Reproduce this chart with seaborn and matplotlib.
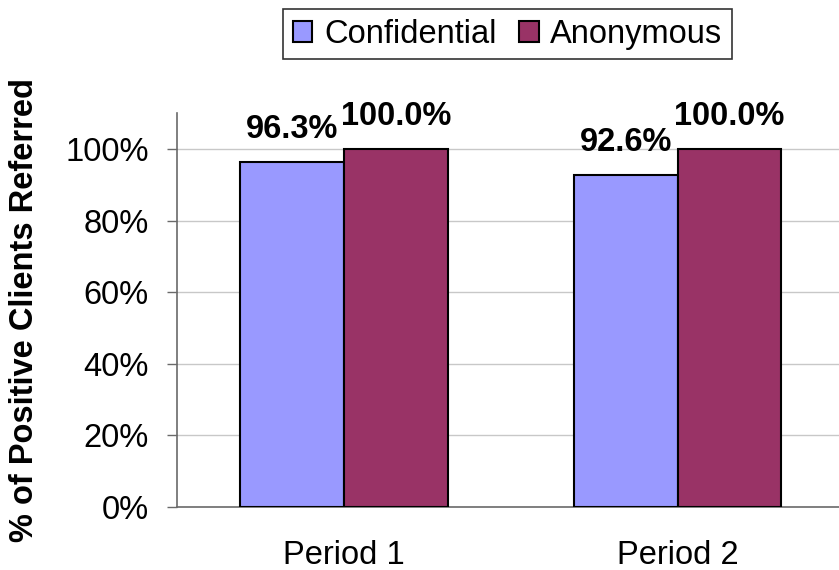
import matplotlib
matplotlib.use('Agg')
import matplotlib.pyplot as plt
import seaborn as sns
import pandas as pd
from matplotlib.ticker import FixedLocator, PercentFormatter

# data
periods = ['Period 1', 'Period 2']
confidential = [96.3, 92.6]
anonymous = [100.0, 100.0]
series_names = ['Confidential', 'Anonymous']
colors = ['#9999FF', '#993366']

df = pd.DataFrame({
    'period': periods * 2,
    'series': [series_names[0]] * len(periods) + [series_names[1]] * len(periods),
    'value': confidential + anonymous,
})

sns.set_style('white')
plt.rcParams['font.family'] = ['Liberation Sans', 'DejaVu Sans']
plt.rcParams['text.color'] = 'black'
plt.rcParams['axes.labelcolor'] = 'black'
plt.rcParams['xtick.color'] = 'black'
plt.rcParams['ytick.color'] = 'black'
fs = 23.5
axis_grey = '#6a6a6a'

fig = plt.figure(figsize=(8.39, 5.70), dpi=100)
ax = fig.add_axes([0.211, 0.1105, 0.796, 0.691])

sns.barplot(data=df, x='period', y='value', hue='series', palette=colors,
            width=0.62, gap=0, edgecolor='black', linewidth=1.5,
            saturation=1, ax=ax, zorder=3)

for container in ax.containers:
    ax.bar_label(container, fmt='%.1f%%', fontsize=fs, fontweight='bold', padding=12.5)

ax.set_ylim(0, 110)
ax.set_xlim(-0.5, 1.5)
ax.set_yticks([0, 20, 40, 60, 80, 100])
ax.yaxis.set_major_formatter(PercentFormatter(decimals=0))
ax.grid(axis='y', color='#c8c8c8', linewidth=1, zorder=0)
ax.set_axisbelow(True)

ax.xaxis.set_minor_locator(FixedLocator([-0.5, 0.5, 1.5]))
ax.tick_params(axis='x', which='major', length=0, pad=24, labelsize=fs)
ax.tick_params(axis='x', which='minor', length=7.5, width=1, color=axis_grey, direction='out')
ax.tick_params(axis='y', which='major', length=7.5, width=1, color=axis_grey,
               direction='out', pad=13, labelsize=fs, left=True)

for side in ['top', 'right']:
    ax.spines[side].set_visible(False)
for side in ['left', 'bottom']:
    ax.spines[side].set_color(axis_grey)
    ax.spines[side].set_linewidth(1.2)

ax.set_xlabel('')
ax.set_ylabel('% of Positive Clients Referred', fontsize=fs, fontweight='bold')
ax.yaxis.set_label_coords(-0.205, 0.5)

handles, labels = ax.get_legend_handles_labels()
ax.legend_.remove()
leg = fig.legend(handles, labels, loc='center', bbox_to_anchor=(0.605, 0.94), ncol=2,
                 fontsize=fs, frameon=True, fancybox=False, edgecolor='black',
                 handlelength=0.6, handleheight=0.6, handletextpad=0.35,
                 columnspacing=0.7, borderpad=0.3, borderaxespad=0)
leg.get_frame().set_linewidth(1.2)

fig.savefig('out.png', dpi=100)
